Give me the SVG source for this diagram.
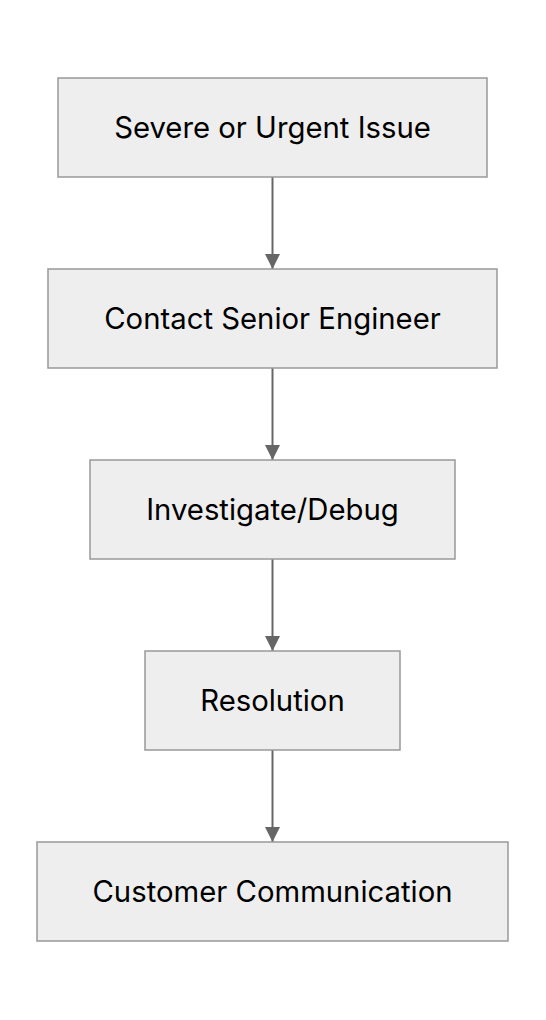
<svg xmlns="http://www.w3.org/2000/svg" width="546" height="1020" viewBox="0 0 546 1020">
<style>
.n rect{fill:#eeeeee;stroke:#999999;stroke-width:1.5}
.n text{font-family:Inter,"Liberation Sans",sans-serif;font-size:29.3px;fill:#000;text-anchor:middle}
.e line{stroke:#666666;stroke-width:2}
</style>
<defs>
<marker id="ah" markerWidth="15" markerHeight="15" viewBox="0 0 15 15" refX="15" refY="7.5" orient="auto" markerUnits="userSpaceOnUse">
<path d="M0,0 L15,7.5 L0,15 Z" fill="#666666"/>
</marker>
</defs>
<rect width="546" height="1020" fill="#ffffff"/>
<g class="e">
<line x1="272.5" y1="177" x2="272.5" y2="269" marker-end="url(#ah)"/>
<line x1="272.5" y1="368" x2="272.5" y2="460" marker-end="url(#ah)"/>
<line x1="272.5" y1="559" x2="272.5" y2="651" marker-end="url(#ah)"/>
<line x1="272.5" y1="750" x2="272.5" y2="842" marker-end="url(#ah)"/>
</g>
<g id="n1" class="n"><rect x="58" y="78" width="429" height="99"/><text x="272.5" y="138">Severe or Urgent Issue</text></g>
<g id="n2" class="n"><rect x="48" y="269" width="449" height="99"/><text x="272.5" y="329">Contact Senior Engineer</text></g>
<g id="n3" class="n"><rect x="90" y="460" width="365" height="99"/><text x="272.5" y="520">Investigate/Debug</text></g>
<g id="n4" class="n"><rect x="145" y="651" width="255" height="99"/><text x="272.5" y="711">Resolution</text></g>
<g id="n5" class="n"><rect x="37" y="842" width="471" height="99"/><text x="272.5" y="902">Customer Communication</text></g>
</svg>
